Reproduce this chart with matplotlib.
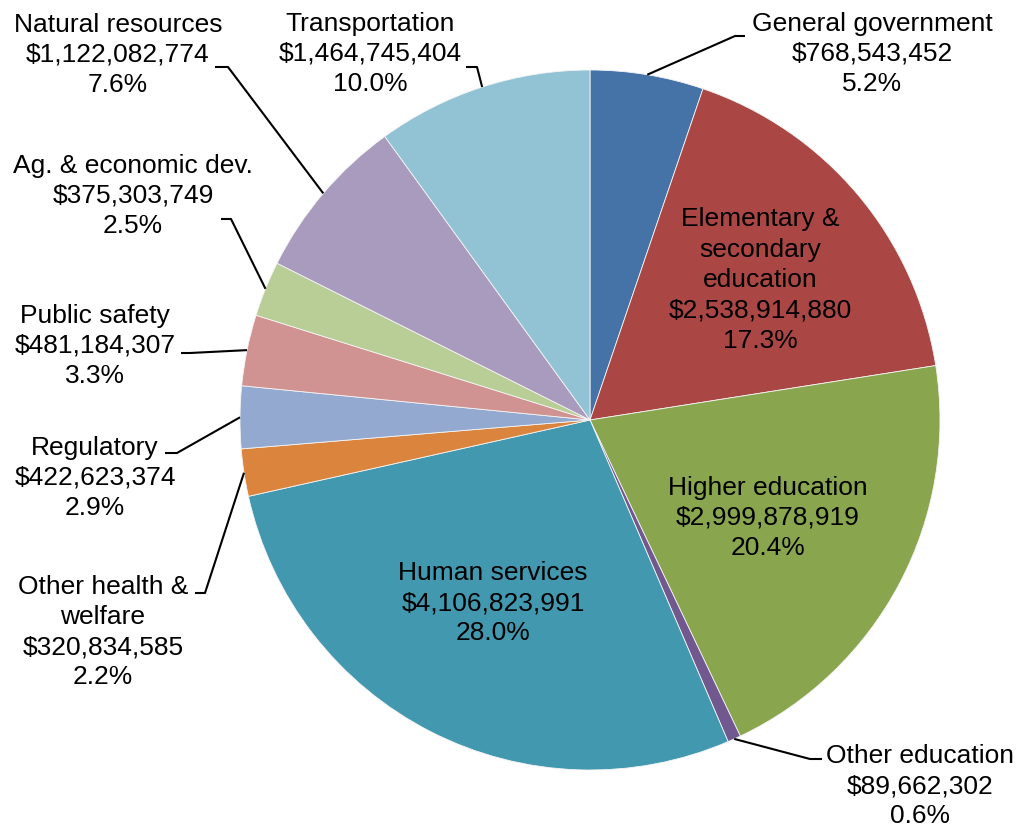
import numpy as np
import matplotlib.pyplot as plt

plt.rcParams['font.family'] = ['Liberation Sans', 'DejaVu Sans']

# slices in clockwise order starting at 12 o'clock
names = ['General government', 'Elementary &\nsecondary\neducation', 'Higher education',
         'Other education', 'Human services', 'Other health &\nwelfare', 'Regulatory',
         'Public safety', 'Ag. & economic dev.', 'Natural resources', 'Transportation']
amounts = [768543452, 2538914880, 2999878919, 89662302, 4106823991, 320834585,
           422623374, 481184307, 375303749, 1122082774, 1464745404]
shares = [5.2, 17.3, 20.4, 0.6, 28.0, 2.2, 2.9, 3.3, 2.5, 7.6, 10.0]
colors = ['#4572A7', '#AA4643', '#89A54E', '#71588F', '#4198AF', '#DB843D',
          '#93A9CF', '#D19392', '#B9CD96', '#A99BBD', '#92C3D4']

W, H = 1017, 830
cx, cy, R = 590, 420, 350   # pixel coords, y down

# label placement (pixel coords, y down); inside labels have no leader
label_pos = {
    0: (872, 54), 1: (760, 280), 2: (768, 518), 3: (920, 786), 4: (493, 603),
    5: (103, 632), 6: (95, 478), 7: (95, 346), 8: (133, 196), 9: (118, 55),
    10: (370, 54),
}
# leader elbow and end points
leaders = {
    0: [(735, 36), (745, 36)],
    3: [(810, 759), (822, 759)],
    5: [(205, 593), (195, 593)],
    6: [(177, 453), (165, 453)],
    7: [(190, 353), (181, 353)],
    8: [(231, 219), (221, 219)],
    9: [(228, 67), (215, 67)],
    10: [(477, 67), (466, 67)],
}


def fy(y):
    return H - y


fig = plt.figure(figsize=(W / 100, H / 100), dpi=100)
ax = fig.add_axes([0, 0, 1, 1])
wedges, _ = ax.pie(amounts, colors=colors, startangle=90, counterclock=False,
                   center=(cx, fy(cy)), radius=R,
                   wedgeprops=dict(edgecolor='#f4f4f4', linewidth=0.6))
ax.set_xlim(0, W)
ax.set_ylim(0, H)
ax.set_aspect('equal')
ax.axis('off')

for i, w in enumerate(wedges):
    txt = f'{names[i]}\n${amounts[i]:,}\n{shares[i]:.1f}%'
    lx, ly = label_pos[i]
    ax.text(lx, fy(ly), txt, ha='center', va='center', multialignment='center',
            fontsize=19, color='black', linespacing=1.33)
    if i in leaders:
        mid = np.deg2rad((w.theta1 + w.theta2) / 2)
        sx, sy = cx + R * np.cos(mid), fy(cy) + R * np.sin(mid)
        pts = [(sx, sy)] + [(x, fy(y)) for x, y in leaders[i]]
        xs, ys = zip(*pts)
        ax.plot(xs, ys, color='black', linewidth=1.5, solid_capstyle='butt')

fig.savefig('out.png', dpi=100, facecolor='white')
